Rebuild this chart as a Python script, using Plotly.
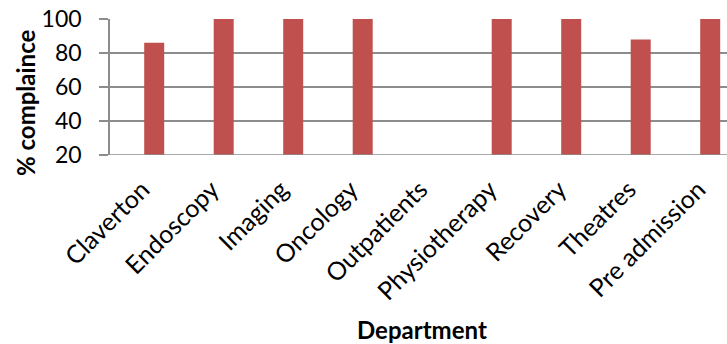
import plotly.graph_objects as go

departments = ["Claverton", "Endoscopy", "Imaging", "Oncology", "Outpatients",
               "Physiotherapy", "Recovery", "Theatres", "Pre admission"]
compliance = [86, 100, 100, 100, None, 100, 100, 88, 100]
y_ticks = [20, 40, 60, 80, 100]

W, H = 727, 344
left, right_px = 110, 727
top, bottom_px = 19, 155
spacing = 69.5
first_center = 154.2

x0 = 0 - (first_center - left) / spacing
x1 = 0 + (right_px - first_center) / spacing

fig = go.Figure()
fig.add_trace(go.Bar(
    x=list(range(len(departments))), y=compliance,
    marker=dict(color="#C0504D", line=dict(width=0)),
    width=20 / spacing,
))

font_family = "Lato, 'Open Sans', sans-serif"
fig.update_layout(
    width=W, height=H,
    margin=dict(l=left, r=W - right_px, t=top, b=H - bottom_px, pad=0),
    paper_bgcolor="white", plot_bgcolor="white",
    showlegend=False,
    font=dict(family=font_family, color="black", size=20),
    xaxis=dict(
        range=[x0, x1],
        tickmode="array", tickvals=list(range(len(departments))), ticktext=departments,
        tickangle=-45, tickfont=dict(size=25),
        ticklabelstandoff=14, ticklabelshift=-12,
        showgrid=False, zeroline=False,
        showline=False, ticks="",
    ),
    yaxis=dict(
        range=[20, 100], tickvals=y_ticks,
        tickfont=dict(size=23),
        ticklabelstandoff=13,
        showgrid=True, gridcolor="#8C8C8C", gridwidth=1.5,
        zeroline=False, showline=True, linecolor="#8C8C8C", linewidth=1.5,
        ticks="outside", ticklen=9, tickcolor="#8C8C8C", tickwidth=1.5,
    ),
)
# bottom axis line extending left like the reference
fig.add_shape(type="line", xref="paper", yref="y", x0=-9 / (right_px - left), x1=1,
              y0=20, y1=20, line=dict(color="#8C8C8C", width=1.5))
fig.add_annotation(text="<b>% complaince</b>", xref="paper", yref="paper",
                   x=-(left - 25) / (right_px - left), y=(bottom_px - 103) / (bottom_px - top),
                   xanchor="center", yanchor="middle", showarrow=False, textangle=-90,
                   font=dict(size=24, family=font_family))
fig.add_annotation(text="<b>Department</b>", xref="paper", yref="paper",
                   x=(421.5 - left) / (right_px - left), y=-(329 - bottom_px) / (bottom_px - top),
                   xanchor="center", yanchor="middle", showarrow=False,
                   font=dict(size=24, family=font_family))
fig.write_html("out.html")
